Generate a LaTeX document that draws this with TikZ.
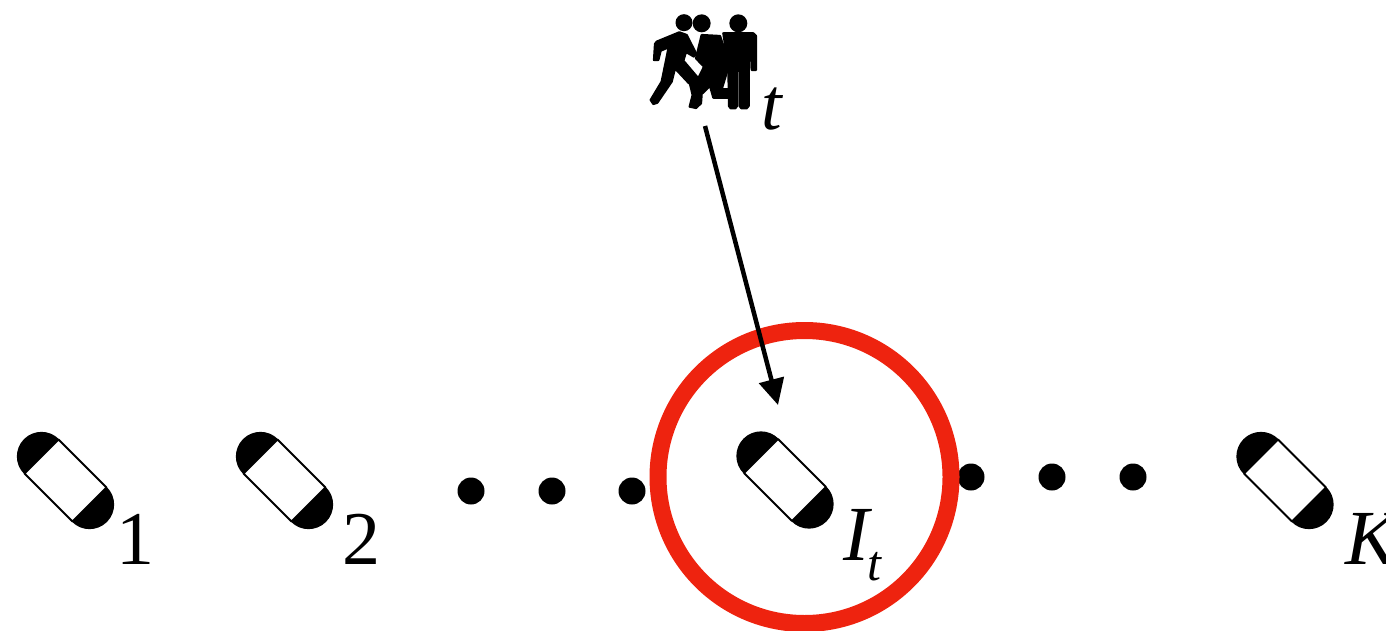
\documentclass[tikz,border=0pt]{standalone}
\usepackage{fontspec}
\setmainfont{Liberation Serif}
\usetikzlibrary{arrows.meta}
\definecolor{ringred}{RGB}{238,35,15}
\tikzset{
  capsule/.pic={
    \begin{scope}[x=1pt,y=1pt,rotate=-45]
      \draw[line width=2pt,fill=white,line join=round] (-34,-24) rectangle (34,24);
      \fill[black] (-34,-24.6) arc (270:90:24.6) -- cycle;
      \fill[black] (34,-24.6) arc (-90:90:24.6) -- cycle;
    \end{scope}
  },
  dotmark/.style={circle,fill=black,inner sep=0pt,minimum size=27pt},
  lab/.style={anchor=base west,inner sep=0pt,font=\fontsize{76}{76}\selectfont},
  sublab/.style={anchor=base west,inner sep=0pt,font=\fontsize{50}{50}\selectfont\itshape},
  ring/.style={draw=ringred,line width=17pt},
  pointer/.style={line width=4.5pt,-{Triangle[length=26pt,width=25pt]},shorten >=0pt},
  iconpart/.style={fill=black,draw=black,line width=2.2pt,line join=round},
  head/.style={circle,fill=black,inner sep=0pt}
}
\begin{document}
\begin{tikzpicture}[x=1pt,y=-1pt]
\useasboundingbox (0,0) rectangle (1386,631);
\clip (0,0) rectangle (1386,631);
% dots
\node[dotmark] (d1) at (471,491) {};
\node[dotmark] (d2) at (552,491) {};
\node[dotmark] (d3) at (632,491) {};
\node[dotmark] (d4) at (971,477) {};
\node[dotmark] (d5) at (1052,477) {};
\node[dotmark] (d6) at (1133,477) {};
% ring
\node[ring,circle,inner sep=0pt,minimum size=293pt] (ring) at (804.5,477) {};
% capsules
\pic at (65.5,480.5) {capsule};
\pic at (284.5,480.5) {capsule};
\pic at (785,480) {capsule};
\pic at (1285,480.5) {capsule};
% labels
\node[lab] (l1) at (116,564) {1};
\node[lab] (l2) at (342,564) {2};
\node[lab,font=\fontsize{78}{78}\selectfont\itshape] (lI) at (843,560) {I};
\node[sublab] (lIt) at (867,580) {t};
\node[lab,font=\fontsize{78}{78}\selectfont\itshape] (lK) at (1345,564) {K};
\node[lab,font=\fontsize{74}{74}\selectfont\itshape] (lt) at (761,130) {t};
% people icon
\begin{scope}[shift={(620,0)},x=0.3333pt,y=-0.3333pt]
  % heads
  \node[head,minimum size=17pt] (h1) at (192,68) {};
  \node[head,minimum size=18pt] (h2) at (245,70) {};
  \node[head,minimum size=18pt] (h3) at (355,70) {};
  % right man
  \path[iconpart] (310,100) -- (400,100) -- (408,108) -- (408,210) -- (395,210) -- (392,130)
     -- (386,130) -- (386,318) -- (380,325) -- (364,325) -- (359,318) -- (359,212) -- (351,212) -- (351,318) -- (346,325) -- (332,325) -- (327,318) -- (325,200) -- cycle;
  % middle figure
  \path[iconpart] (245,105) -- (300,108) -- (318,160) -- (322,212) -- (305,268) -- (330,268) -- (332,293) -- (280,293) -- (270,258) -- (245,282) -- (243,310) -- (228,324) -- (209,320) -- (218,285) -- (207,240) -- (235,235) -- (252,200) -- (228,175) -- cycle;
  % left runner
  \path[iconpart] (110,125) -- (178,97) -- (200,105) -- (228,160) -- (222,170) -- (198,156) -- (190,182) -- (235,235) -- (207,250) -- (165,205) -- (155,245) -- (112,308) -- (100,312) -- (92,300) -- (125,245) -- (146,142) -- (122,152) -- (115,180) -- (102,180) -- (105,132) -- cycle;
\end{scope}
% arrow
\coordinate (from) at (705,126);
\coordinate (to) at (778,405);
\draw[pointer] (from) -- (to);
\end{tikzpicture}
\end{document}
